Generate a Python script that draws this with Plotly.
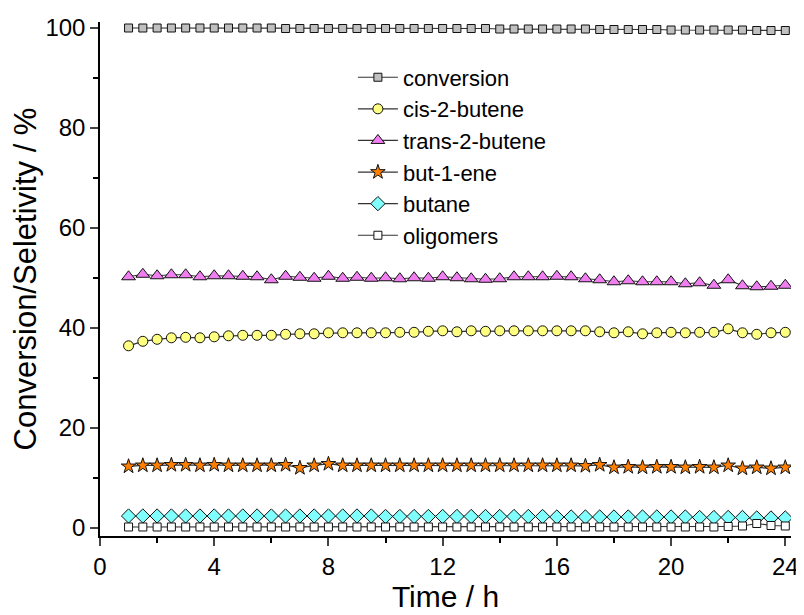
import plotly.graph_objects as go

time_h = [1 + 0.5 * i for i in range(47)]

conversion = [99.9, 99.9, 99.9, 99.9, 99.9, 99.9, 99.9, 99.9, 99.9, 99.9,
              99.9, 99.8, 99.8, 99.8, 99.8, 99.8, 99.8, 99.8, 99.8, 99.8,
              99.8, 99.8, 99.8, 99.8, 99.8, 99.8, 99.7, 99.7, 99.7, 99.7,
              99.7, 99.7, 99.7, 99.6, 99.6, 99.6, 99.6, 99.6, 99.5, 99.5,
              99.5, 99.5, 99.5, 99.5, 99.4, 99.4, 99.4]

cis_2_butene = [36.4, 37.3, 37.7, 38.0, 38.1, 38.0, 38.2, 38.4, 38.5, 38.5,
                38.5, 38.7, 38.8, 38.8, 39.0, 39.0, 39.0, 39.0, 39.0, 39.1,
                39.1, 39.3, 39.4, 39.2, 39.4, 39.3, 39.4, 39.4, 39.4, 39.4,
                39.4, 39.4, 39.4, 39.2, 39.0, 39.2, 38.8, 39.0, 39.1, 39.0,
                39.1, 39.1, 39.8, 39.0, 38.7, 39.0, 39.1]

trans_2_butene = [50.2, 50.7, 50.4, 50.6, 50.6, 50.2, 50.4, 50.4, 50.3, 50.2,
                  49.6, 50.3, 50.1, 49.9, 50.3, 49.9, 50.1, 49.9, 50.0, 49.8,
                  50.0, 49.9, 50.2, 50.0, 49.8, 49.7, 49.8, 50.2, 50.2, 50.2,
                  50.3, 50.2, 49.8, 49.6, 49.2, 49.4, 49.2, 49.2, 49.2, 48.8,
                  49.0, 48.5, 49.6, 48.4, 48.2, 48.3, 48.5]

but_1_ene = [12.3, 12.5, 12.5, 12.6, 12.6, 12.5, 12.6, 12.5, 12.5, 12.5,
             12.5, 12.6, 12.0, 12.5, 12.8, 12.5, 12.5, 12.5, 12.5, 12.5,
             12.5, 12.5, 12.5, 12.5, 12.5, 12.5, 12.5, 12.5, 12.5, 12.5,
             12.5, 12.5, 12.4, 12.6, 12.1, 12.2, 12.1, 12.2, 12.2, 12.1,
             12.2, 12.1, 12.5, 11.9, 12.1, 11.9, 12.1]

butane = [2.4, 2.4, 2.4, 2.4, 2.4, 2.4, 2.4, 2.4, 2.4, 2.4,
          2.4, 2.4, 2.4, 2.4, 2.4, 2.4, 2.4, 2.4, 2.3, 2.3,
          2.3, 2.3, 2.3, 2.3, 2.3, 2.3, 2.3, 2.3, 2.3, 2.3,
          2.2, 2.2, 2.2, 2.2, 2.2, 2.2, 2.2, 2.2, 2.2, 2.2,
          2.1, 2.1, 2.1, 2.1, 2.0, 2.0, 2.0]

oligomers = [0.2, 0.2, 0.2, 0.2, 0.2, 0.2, 0.2, 0.2, 0.2, 0.2,
             0.2, 0.2, 0.2, 0.2, 0.2, 0.2, 0.2, 0.2, 0.2, 0.2,
             0.2, 0.2, 0.2, 0.2, 0.2, 0.2, 0.2, 0.2, 0.2, 0.2,
             0.2, 0.2, 0.2, 0.2, 0.2, 0.2, 0.2, 0.2, 0.2, 0.2,
             0.2, 0.2, 0.3, 0.4, 0.9, 0.5, 0.4]

series_names = ["conversion", "cis-2-butene", "trans-2-butene", "but-1-ene", "butane", "oligomers"]
series_values = [conversion, cis_2_butene, trans_2_butene, but_1_ene, butane, oligomers]
symbols = ["square", "circle", "triangle-up", "star", "diamond", "square"]
fills = ["#c0c0c0", "#ffff80", "#f07ef0", "#ff8000", "#80ffff", "#ffffff"]
sizes = [8, 10, 12, 11, 11, 8]

x_ticks = [0, 4, 8, 12, 16, 20, 24]
y_ticks = [0, 20, 40, 60, 80, 100]

FONT = "Arial, 'Liberation Sans', sans-serif"

fig = go.Figure()
for name, vals, sym, fc, sz in zip(series_names, series_values, symbols, fills, sizes):
    fig.add_trace(go.Scatter(
        x=time_h, y=vals, name=name, mode="lines+markers",
        line=dict(color="#333333", width=1.2),
        marker=dict(symbol=sym, color=fc, size=sz, line=dict(color="#111111", width=1)),
    ))

fig.update_layout(
    width=804, height=615,
    margin=dict(l=92, r=21, t=14, b=87, autoexpand=False),
    paper_bgcolor="white", plot_bgcolor="white",
    font=dict(family=FONT, size=24, color="black"),
    showlegend=True,
    legend=dict(x=0.366, y=0.933, xanchor="left", yanchor="top",
                font=dict(size=22), bgcolor="rgba(0,0,0,0)",
                tracegroupgap=0, itemwidth=40),
    xaxis=dict(range=[0, 24.2], tickvals=x_ticks, ticks="outside", ticklen=8, tickwidth=1.5,
               showline=True, linecolor="black", linewidth=1.5, showgrid=False, zeroline=False,
               minor=dict(dtick=2, ticks="outside", ticklen=5, tickwidth=1.5, tickcolor="black"),
               tickfont=dict(size=24), automargin=False,
               title=dict(text="Time / h", standoff=4, font=dict(size=30))),
    yaxis=dict(range=[-1.6, 101.1], tickvals=y_ticks, ticks="outside", ticklen=8, tickwidth=1.5,
               showline=True, linecolor="black", linewidth=1.5, showgrid=False, zeroline=False,
               minor=dict(tickvals=[10, 30, 50, 70, 90], ticks="outside", ticklen=5, tickwidth=1.5, tickcolor="black"),
               tickfont=dict(size=24), automargin=False,
               title=dict(text="Conversion/Seletivity / %", standoff=4, font=dict(size=31))),
)

fig.write_html("out.html")
